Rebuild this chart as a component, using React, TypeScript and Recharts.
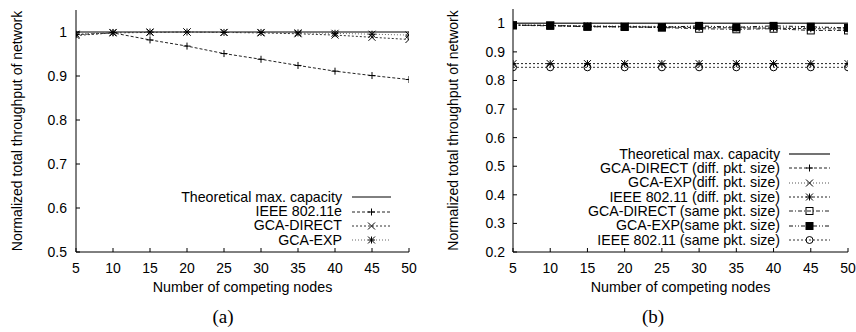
import React from 'react';
import { LineChart, Line, XAxis, YAxis, Legend } from 'recharts';

// x values shared by both panels
const nodes = [5, 10, 15, 20, 25, 30, 35, 40, 45, 50];

// panel (a)
const aMax = [1, 1, 1, 1, 1, 1, 1, 1, 1, 1];
const aIeee = [0.994, 0.998, 0.982, 0.968, 0.951, 0.938, 0.924, 0.911, 0.901, 0.892];
const aDirect = [0.992, 0.998, 0.999, 1.0, 0.999, 0.998, 0.996, 0.993, 0.988, 0.983];
const aExp = [0.995, 0.999, 1.0, 1.0, 0.999, 0.999, 0.998, 0.997, 0.995, 0.993];
const aYTicks = [0.5, 0.6, 0.7, 0.8, 0.9, 1];

// panel (b)
const bMax = [1, 1, 1, 1, 1, 1, 1, 1, 1, 1];
const bDirectDiff = [0.994, 0.992, 0.99, 0.988, 0.987, 0.985, 0.984, 0.983, 0.981, 0.98];
const bExpDiff = [0.994, 0.993, 0.991, 0.99, 0.989, 0.988, 0.987, 0.986, 0.985, 0.984];
const bIeeeDiff = [0.859, 0.859, 0.859, 0.859, 0.859, 0.859, 0.859, 0.859, 0.859, 0.859];
const bDirectSame = [0.993, 0.991, 0.988, 0.987, 0.985, 0.981, 0.979, 0.981, 0.975, 0.975];
const bExpSame = [0.993, 0.993, 0.988, 0.988, 0.986, 0.991, 0.986, 0.991, 0.988, 0.984];
const bIeeeSame = [0.846, 0.846, 0.846, 0.846, 0.846, 0.846, 0.846, 0.846, 0.846, 0.846];
const bYTicks = [0.2, 0.3, 0.4, 0.5, 0.6, 0.7, 0.8, 0.9, 1];

const dataA = nodes.map((n, i) => ({
  n,
  max: aMax[i],
  ieee: aIeee[i],
  direct: aDirect[i],
  exp: aExp[i],
}));

const dataB = nodes.map((n, i) => ({
  n,
  max: bMax[i],
  directDiff: bDirectDiff[i],
  expDiff: bExpDiff[i],
  ieeeDiff: bIeeeDiff[i],
  directSame: bDirectSame[i],
  expSame: bExpSame[i],
  ieeeSame: bIeeeSame[i],
}));

type Shape = 'none' | 'plus' | 'cross' | 'star' | 'box' | 'fbox' | 'circle';

interface Series {
  key: string;
  name: string;
  stroke: string;
  dash?: string;
  width?: number;
  shape: Shape;
}

const seriesA: Series[] = [
  { key: 'max', name: 'Theoretical max. capacity', stroke: '#000', shape: 'none' },
  { key: 'ieee', name: 'IEEE 802.11e', stroke: '#222', dash: '3 2', shape: 'plus' },
  { key: 'direct', name: 'GCA-DIRECT', stroke: '#333', dash: '2 2', shape: 'cross' },
  { key: 'exp', name: 'GCA-EXP', stroke: '#666', dash: '1 2', shape: 'star' },
];

const seriesB: Series[] = [
  { key: 'max', name: 'Theoretical max. capacity', stroke: '#444', width: 1.6, shape: 'none' },
  { key: 'directDiff', name: 'GCA-DIRECT (diff. pkt. size)', stroke: '#222', dash: '3 2', shape: 'plus' },
  { key: 'expDiff', name: 'GCA-EXP(diff. pkt. size)', stroke: '#555', dash: '1 2', shape: 'cross' },
  { key: 'ieeeDiff', name: 'IEEE 802.11 (diff. pkt. size)', stroke: '#222', dash: '2 2', shape: 'star' },
  { key: 'directSame', name: 'GCA-DIRECT (same pkt. size)', stroke: '#222', dash: '4 2 1 2', shape: 'box' },
  { key: 'expSame', name: 'GCA-EXP(same pkt. size)', stroke: '#111', dash: '4 2 1 2 1 2', shape: 'fbox' },
  { key: 'ieeeSame', name: 'IEEE 802.11 (same pkt. size)', stroke: '#333', dash: '2 2', shape: 'circle' },
];

const Mark = ({ shape, x, y }: { shape: Shape; x: number; y: number }) => {
  const r = 3.5;
  const c = '#000';
  if (shape === 'plus')
    return <path d={`M${x - r},${y}H${x + r}M${x},${y - r}V${y + r}`} stroke={c} fill="none" />;
  if (shape === 'cross')
    return <path d={`M${x - r},${y - r}L${x + r},${y + r}M${x - r},${y + r}L${x + r},${y - r}`} stroke={c} fill="none" />;
  if (shape === 'star')
    return (
      <path
        d={`M${x - r},${y}H${x + r}M${x},${y - r}V${y + r}M${x - r},${y - r}L${x + r},${y + r}M${x - r},${y + r}L${x + r},${y - r}`}
        stroke={c}
        fill="none"
      />
    );
  if (shape === 'box')
    return <rect x={x - r} y={y - r} width={2 * r} height={2 * r} stroke={c} fill="none" />;
  if (shape === 'fbox')
    return <rect x={x - 4} y={y - 4} width={8} height={8} fill={c} />;
  if (shape === 'circle') return <circle cx={x} cy={y} r={r} stroke={c} fill="none" />;
  return null;
};

const fmt = (v: number) => (v === 1 ? '1' : v.toFixed(1));

const tickStyle = { fill: '#000', fontSize: 14 };

const LegendBox = ({
  items,
  textWidth,
  gap,
  sample,
  rowH,
}: {
  items: Series[];
  textWidth: number;
  gap: number;
  sample: number;
  rowH: number;
}) => (
  <div style={{ fontSize: 14.2, color: '#000' }}>
    {items.map((s) => (
      <div key={s.key} style={{ display: 'flex', alignItems: 'center', height: rowH }}>
        <span
          style={{
            display: 'block',
            width: textWidth,
            height: 13,
            lineHeight: '13px',
            textAlign: 'right',
            whiteSpace: 'nowrap',
          }}
        >
          {s.name}
        </span>
        <svg width={sample} height={12} style={{ marginLeft: gap, display: 'block' }}>
          <line
            x1={0}
            x2={sample}
            y1={6}
            y2={6}
            stroke={s.stroke}
            strokeWidth={s.width || 1}
            strokeDasharray={s.dash}
          />
          <Mark shape={s.shape} x={sample / 2} y={6} />
        </svg>
      </div>
    ))}
  </div>
);

interface PanelProps {
  data: any[];
  series: Series[];
  yDomain: [number, number];
  yTicks: number[];
  width: number;
  marginTop: number;
  marginRight: number;
  yAxisWidth: number;
  yLabelOffset: number;
  yTickMargin: number;
  legend: React.ReactNode;
  legendLeft: number;
  legendTop: number;
}

const Panel = (p: PanelProps) => (
  <LineChart
    width={p.width}
    height={300}
    data={p.data}
    margin={{ top: p.marginTop, right: p.marginRight, bottom: 0, left: 0 }}
    style={{ fontFamily: '"Liberation Sans", Arial, sans-serif' }}
  >
    <XAxis
      dataKey="n"
      type="number"
      domain={[5, 50]}
      ticks={nodes}
      allowDataOverflow
      height={48}
      stroke="#000"
      tickSize={-4}
      tickMargin={15}
      tick={tickStyle}
      label={{ value: 'Number of competing nodes', position: 'insideBottom', offset: 8, fill: '#000', fontSize: 14.3 }}
    />
    <XAxis
      xAxisId="top"
      orientation="top"
      type="number"
      domain={[5, 50]}
      ticks={nodes}
      allowDataOverflow
      height={0}
      stroke="#000"
      tickSize={-4}
      tick={false}
    />
    <YAxis
      type="number"
      domain={p.yDomain}
      ticks={p.yTicks}
      allowDataOverflow
      width={p.yAxisWidth}
      stroke="#000"
      tickSize={-4}
      tickMargin={p.yTickMargin}
      tick={tickStyle}
      tickFormatter={fmt}
      label={{
        value: 'Normalized total throughput of network',
        angle: -90,
        position: 'insideLeft',
        offset: p.yLabelOffset,
        fill: '#000',
        fontSize: 14,
        style: { textAnchor: 'middle' },
      }}
    />
    <YAxis
      yAxisId="right"
      orientation="right"
      type="number"
      domain={p.yDomain}
      ticks={p.yTicks}
      allowDataOverflow
      width={0}
      stroke="#000"
      tickSize={-4}
      tick={false}
    />
    {p.series.map((s) => (
      <Line
        key={s.key}
        type="linear"
        dataKey={s.key}
        name={s.name}
        stroke={s.stroke}
        strokeWidth={s.width || 1}
        strokeDasharray={s.dash}
        isAnimationActive={false}
        activeDot={false}
        dot={
          s.shape === 'none'
            ? false
            : (d: any) => (
                <g key={`${s.key}-${d.index}`}>
                  <Mark shape={s.shape} x={d.cx} y={d.cy} />
                </g>
              )
        }
      />
    ))}
    <Legend
      layout="horizontal"
      verticalAlign="middle"
      align="center"
      wrapperStyle={{ left: p.legendLeft, top: p.legendTop, width: 'auto' }}
      content={() => p.legend}
    />
  </LineChart>
);

const captionStyle: React.CSSProperties = {
  position: 'absolute',
  top: 307,
  width: 100,
  textAlign: 'center',
  fontFamily: '"Liberation Serif", "Times New Roman", serif',
  fontSize: 19,
  lineHeight: '19px',
  color: '#000',
};

export default function App() {
  return (
    <div style={{ position: 'absolute', left: 0, top: 0, width: 856, height: 332, background: '#fff', overflow: 'hidden' }}>
      <div style={{ position: 'absolute', left: 0, top: 0 }}>
        <Panel
          data={dataA}
          series={seriesA}
          yDomain={[0.5, 1.05]}
          yTicks={aYTicks}
          width={420}
          marginTop={10}
          marginRight={11}
          yAxisWidth={76}
          yLabelOffset={17}
          yTickMargin={13}
          legendLeft={140}
          legendTop={190}
          legend={<LegendBox items={seriesA} textWidth={202} gap={10} sample={39} rowH={14.4} />}
        />
      </div>
      <div style={{ position: 'absolute', left: 430, top: 0 }}>
        <Panel
          data={dataB}
          series={seriesB}
          yDomain={[0.2, 1.05]}
          yTicks={bYTicks}
          width={426}
          marginTop={9}
          marginRight={8}
          yAxisWidth={83}
          yLabelOffset={23}
          yTickMargin={12}
          legendLeft={120}
          legendTop={147}
          legend={<LegendBox items={seriesB} textWidth={230} gap={9} sample={41} rowH={14.33} />}
        />
      </div>
      <div style={{ ...captionStyle, left: 173 }}>(a)</div>
      <div style={{ ...captionStyle, left: 603 }}>(b)</div>
    </div>
  );
}
